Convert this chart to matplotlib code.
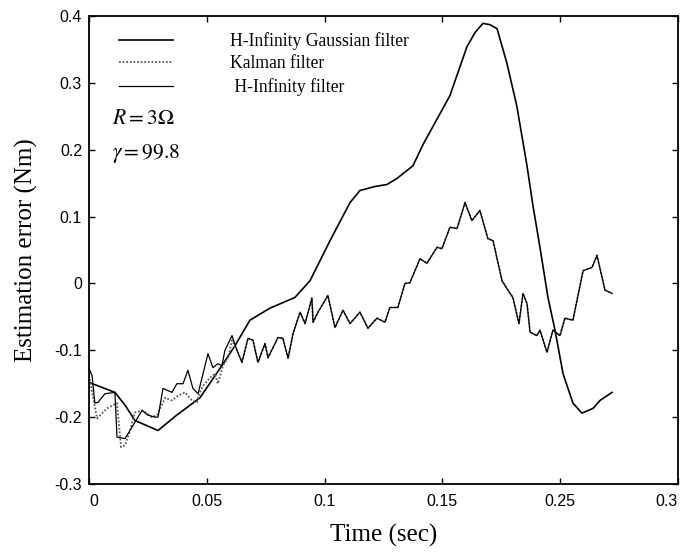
import matplotlib
matplotlib.use('Agg')
import matplotlib.pyplot as plt
import numpy as np

plt.rcParams['font.family'] = 'Liberation Sans'
plt.rcParams['mathtext.fontset'] = 'stix'

# H-Infinity Gaussian filter (smooth curve)
t_gauss = [0, 0.0110, 0.0153, 0.0195, 0.0293, 0.0365, 0.0471, 0.0564, 0.0620, 0.0683,
           0.0768, 0.0874, 0.0938, 0.1023, 0.1108, 0.1150, 0.1214, 0.1265, 0.1307, 0.1375,
           0.1418, 0.1490, 0.1532, 0.1604, 0.1638, 0.1672, 0.1702, 0.1732, 0.1774, 0.1816,
           0.1859, 0.1884, 0.1914, 0.1948, 0.1978, 0.2012, 0.2054, 0.2092, 0.2139, 0.2169, 0.2220]
err_gauss = [-0.148, -0.163, -0.182, -0.205, -0.220, -0.199, -0.171, -0.123, -0.093, -0.055,
             -0.037, -0.021, 0.004, 0.064, 0.121, 0.139, 0.145, 0.148, 0.157, 0.176,
             0.208, 0.254, 0.281, 0.354, 0.375, 0.389, 0.387, 0.381, 0.329, 0.265,
             0.176, 0.117, 0.054, -0.021, -0.070, -0.135, -0.179, -0.194, -0.187, -0.175, -0.163]

# start of the two noisy filters, where they differ
t_kalman_head = [0, 0.0008, 0.0034, 0.0076, 0.0119, 0.0136, 0.0153, 0.0174, 0.0195, 0.0229,
                 0.0267, 0.0289, 0.0323, 0.0352, 0.0378, 0.0407, 0.0437, 0.0458, 0.0471, 0.0484,
                 0.0514, 0.0535, 0.0547, 0.0569, 0.0590, 0.0607]
err_kalman_head = [-0.138, -0.153, -0.202, -0.187, -0.179, -0.245, -0.242, -0.220, -0.193, -0.190,
                   -0.200, -0.197, -0.171, -0.175, -0.168, -0.163, -0.175, -0.178, -0.163, -0.153,
                   -0.141, -0.135, -0.150, -0.123, -0.111, -0.085]

t_hinf_head = [0, 0.0013, 0.0025, 0.0038, 0.0068, 0.0110, 0.0119, 0.0153, 0.0174, 0.0225,
               0.0250, 0.0280, 0.0293, 0.0314, 0.0352, 0.0373, 0.0399, 0.0420, 0.0441, 0.0463,
               0.0505, 0.0526, 0.0547, 0.0564, 0.0577, 0.0607]
err_hinf_head = [-0.127, -0.138, -0.179, -0.178, -0.165, -0.163, -0.230, -0.232, -0.220, -0.190,
                 -0.197, -0.200, -0.200, -0.157, -0.163, -0.150, -0.150, -0.130, -0.157, -0.165,
                 -0.105, -0.126, -0.120, -0.123, -0.100, -0.078]

# after ~0.06 both noisy filters lie on top of each other
t_tail = [0.0628, 0.0649, 0.0675, 0.0696, 0.0717, 0.0747, 0.0760, 0.0802, 0.0823, 0.0845,
          0.0866, 0.0896, 0.0917, 0.0946, 0.0951, 0.0972, 0.1014, 0.1044, 0.1078, 0.1108,
          0.1150, 0.1184, 0.1222, 0.1256, 0.1277, 0.1311, 0.1341, 0.1362, 0.1405, 0.1434,
          0.1477, 0.1498, 0.1532, 0.1562, 0.1596, 0.1625, 0.1659, 0.1693, 0.1715, 0.1753,
          0.1778, 0.1799, 0.1825, 0.1842, 0.1859, 0.1872, 0.1901, 0.1914, 0.1944, 0.1969,
          0.1999, 0.2020, 0.2054, 0.2097, 0.2135, 0.2156, 0.2190, 0.2220]
err_tail = [-0.100, -0.118, -0.082, -0.085, -0.118, -0.090, -0.111, -0.081, -0.082, -0.112,
            -0.075, -0.043, -0.060, -0.022, -0.058, -0.043, -0.018, -0.066, -0.040, -0.060,
            -0.043, -0.067, -0.052, -0.058, -0.036, -0.036, 0.000, 0.001, 0.037, 0.030,
            0.054, 0.052, 0.084, 0.082, 0.121, 0.094, 0.109, 0.067, 0.064, 0.004,
            -0.010, -0.021, -0.060, -0.015, -0.030, -0.073, -0.078, -0.070, -0.103, -0.070,
            -0.078, -0.052, -0.055, 0.019, 0.024, 0.042, -0.010, -0.015]

xtick_labels = ['0', '0.05', '0.1', '0.15', '0.25', '0.3']
ytick_vals = [-0.3, -0.2, -0.1, 0, 0.1, 0.2, 0.3, 0.4]
ytick_labels = ['-0.3', '-0.2', '-0.1', '0', '0.1', '0.2', '0.3', '0.4']

t_kalman = t_kalman_head + t_tail
err_kalman = err_kalman_head + err_tail
t_hinf = t_hinf_head + t_tail
err_hinf = err_hinf_head + err_tail

fig = plt.figure(figsize=(6.83, 5.52), dpi=100)
ax = fig.add_axes([0.1303, 0.1232, 0.8624, 0.8478])

l1, = ax.plot(t_gauss, err_gauss, color='black', lw=1.2)
l2, = ax.plot(t_kalman, err_kalman, color='0.35', lw=1.3, ls=(0, (1, 1)))
l3, = ax.plot(t_hinf, err_hinf, color='black', lw=0.9)

ax.set_xlim(0, 0.25)
ax.set_ylim(-0.3, 0.4)
ax.set_xticks(np.arange(0, 0.26, 0.05))
ax.set_xticklabels(xtick_labels)
ax.set_yticks(ytick_vals)
ax.set_yticklabels(ytick_labels)
ax.tick_params(direction='in', top=True, right=True, length=4, width=1,
               labelsize=11.5, pad=5)
ax.tick_params(axis='x', pad=7)
xl = ax.get_xticklabels()
xl[0].set_ha('left')
xl[-1].set_ha('right')
for s in ax.spines.values():
    s.set_linewidth(1.3)

ax.set_xlabel('Time (sec)', family='Liberation Serif', fontsize=18, labelpad=11)
ax.set_ylabel('Estimation error (Nm)', family='Liberation Serif', fontsize=18, labelpad=11.5)

ax.legend([l1, l2, l3],
          ['H-Infinity Gaussian filter', 'Kalman filter', ' H-Infinity filter'],
          loc='upper left', bbox_to_anchor=(0.051, 0.966), frameon=False,
          prop={'family': 'Liberation Serif', 'size': 12.7},
          handlelength=3.07, handletextpad=3.24, labelspacing=0.32,
          borderpad=0, borderaxespad=0)

ax.text(0.039, 0.782, r'$R=3\Omega$', transform=ax.transAxes, fontsize=15.5, va='center')
ax.text(0.039, 0.707, r'$\gamma=99.8$', transform=ax.transAxes, fontsize=15.5, va='center')

fig.savefig('out.png', dpi=100)
